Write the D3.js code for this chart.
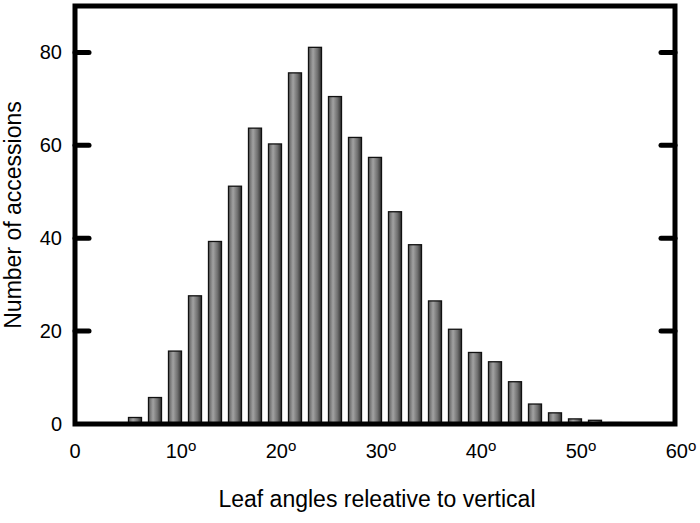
<!DOCTYPE html>
<html>
<head>
<meta charset="utf-8">
<script src="https://cdn.jsdelivr.net/npm/d3@7"></script>
<style>
  body { margin: 0; background: #fff; }
  text { font-family: "Liberation Sans", Arial, sans-serif; fill: #000; }
</style>
</head>
<body>
<div id="chart"></div>
<script>
// bin centres (degrees) and counts
var angles = [6, 8, 10, 12, 14, 16, 18, 20, 22, 24, 26, 28, 30, 32, 34, 36, 38, 40, 42, 44, 46, 48, 50, 52, 54];
var counts = [1.4, 5.7, 15.7, 27.6, 39.3, 51.2, 63.7, 60.3, 75.6, 81.1, 70.5, 61.7, 57.4, 45.7, 38.6, 26.5, 20.4, 15.4, 13.4, 9.1, 4.3, 2.4, 1.1, 0.8, 0.3];
var yTicks = [0, 20, 40, 60, 80];
var xTicks = [0, 10, 20, 30, 40, 50, 60];

var W = 700, H = 523;
var margin = {top: 6, right: 25, bottom: 99, left: 75},
    width = W - margin.left - margin.right,
    height = H - margin.top - margin.bottom;

var svg = d3.select("#chart")
  .append("svg")
    .attr("width", W)
    .attr("height", H);

// bar shading
var grad = svg.append("defs").append("linearGradient")
    .attr("id", "barGrad")
    .attr("x1", "0%").attr("x2", "100%").attr("y1", "0%").attr("y2", "0%");
grad.append("stop").attr("offset", "0%").attr("stop-color", "#5c5c5c");
grad.append("stop").attr("offset", "35%").attr("stop-color", "#a2a2a2");
grad.append("stop").attr("offset", "70%").attr("stop-color", "#6e6e6e");
grad.append("stop").attr("offset", "100%").attr("stop-color", "#2e2e2e");

var g = svg.append("g")
    .attr("transform", "translate(" + margin.left + "," + margin.top + ")");

var x = d3.scaleLinear().domain([0, 60]).range([0, width]);
var y = d3.scaleLinear().domain([0, 90]).range([height, 0]);

var barW = x(1.3) - x(0);

// bars
g.selectAll("rect.bar")
  .data(angles)
  .enter()
  .append("rect")
    .attr("class", "bar")
    .attr("x", function(d) { return x(d) - barW / 2; })
    .attr("y", function(d, i) { return y(counts[i]); })
    .attr("width", barW)
    .attr("height", function(d, i) { return y(0) - y(counts[i]); })
    .attr("fill", "url(#barGrad)")
    .attr("stroke", "#111")
    .attr("stroke-width", 1.3);

// frame
g.append("rect")
    .attr("x", 0).attr("y", 0)
    .attr("width", width).attr("height", height)
    .attr("fill", "none")
    .attr("stroke", "#000")
    .attr("stroke-width", 5);

// y ticks pointing inward, both sides
var tickLen = 14;
g.selectAll("line.ytl")
  .data(yTicks.slice(1))
  .enter()
  .append("line")
    .attr("x1", 0).attr("x2", tickLen)
    .attr("y1", function(d) { return y(d); })
    .attr("y2", function(d) { return y(d); })
    .attr("stroke", "#000").attr("stroke-width", 5).attr("stroke-linecap", "round");
g.selectAll("line.ytr")
  .data(yTicks.slice(1))
  .enter()
  .append("line")
    .attr("x1", width - tickLen).attr("x2", width)
    .attr("y1", function(d) { return y(d); })
    .attr("y2", function(d) { return y(d); })
    .attr("stroke", "#000").attr("stroke-width", 5).attr("stroke-linecap", "round");

// y tick labels
g.selectAll("text.ylab")
  .data(yTicks)
  .enter()
  .append("text")
    .attr("x", -13)
    .attr("y", function(d) { return y(d) + 7; })
    .attr("text-anchor", "end")
    .style("font-size", "20px")
    .text(function(d) { return d; });

// x tick labels with degree marks
var xl = g.selectAll("text.xlab")
  .data(xTicks)
  .enter()
  .append("text")
    .attr("x", function(d) { return x(d) + (d === 0 ? 0 : 6); })
    .attr("y", height + 34)
    .attr("text-anchor", "middle")
    .style("font-size", "20px");
xl.append("tspan").text(function(d) { return d; });
xl.filter(function(d) { return d !== 0; })
  .append("tspan")
    .attr("dy", -7)
    .style("font-size", "15px")
    .text("o");

// axis titles
svg.append("text")
    .attr("x", margin.left + width / 2 + 2)
    .attr("y", 507)
    .attr("text-anchor", "middle")
    .style("font-size", "23px")
    .text("Leaf angles releative to vertical");

svg.append("text")
    .attr("transform", "translate(21," + (margin.top + height / 2) + ") rotate(-90)")
    .attr("text-anchor", "middle")
    .style("font-size", "23px")
    .text("Number of accessions");
</script>
</body>
</html>
